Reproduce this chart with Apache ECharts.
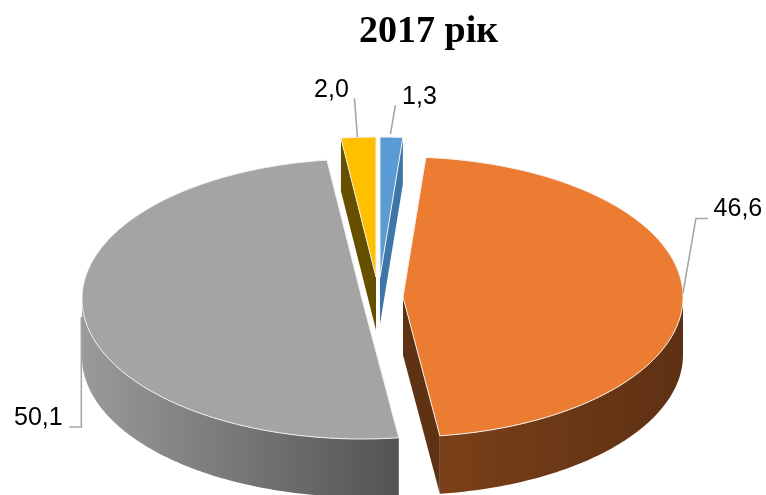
<!DOCTYPE html>
<html>
<head>
<meta charset="utf-8">
<script src="https://cdn.jsdelivr.net/npm/echarts@6/dist/echarts.min.js"></script>
<style>
  html, body { margin: 0; padding: 0; background: #ffffff; }
  #chart { width: 766px; height: 495px; }
</style>
</head>
<body>
<div id="chart"></div>
<script>
const chartTitle = '2017 рік';
const sliceValues = [1.3, 46.6, 50.1, 2.0];
const topColors = ['#5B9BD5', '#EB7C32', '#A4A4A4', '#FFC000'];
const sideColors = ['#3F76A8', '#5F3213', '#6E6E6E', '#665000'];
const wallStops = [
  ['#3F76A8', '#3F76A8'],
  ['#7A4018', '#5E3013'],
  ['#9A9A9A', '#535353'],
  ['#665000', '#665000']
];
// explode of each slice from the pie centre, px
const sliceShift = [[-2, -21], [21, -1], [-20, 1], [-6, -21]];
const wallHeights = [47, 58, 58, 53];
// leader line points and label centre, relative to the rim point at the slice middle
const leaderOffsets = [
  [[-1, -3], [4, -32]],
  [[0, 0], [13, -75], [25, -75]],
  [[-3, 0], [-3, 110], [-15, 110]],
  [[-1, 0], [-4, -39]]
];
const labelOffsets = [[28, -40], [55, -84], [-46, 101], [-27, -47]];

const pieCentre = [382, 298];
const radiusX = 280;
const radiusY = 140;

const total = sliceValues.reduce((a, b) => a + b, 0);

function rimPoint(centre, deg) {
  const rad = deg * Math.PI / 180;
  return [centre[0] + radiusX * Math.sin(rad), centre[1] - radiusY * Math.cos(rad)];
}

function arcPoints(centre, from, to) {
  const pts = [];
  const steps = Math.max(2, Math.ceil(to - from));
  for (let i = 0; i <= steps; i++) {
    pts.push(rimPoint(centre, from + (to - from) * i / steps));
  }
  return pts;
}

function renderSlice(params, api) {
  const i = params.dataIndex;
  let before = 0;
  for (let k = 0; k < i; k++) before += sliceValues[k];
  const start = before / total * 360;
  const end = (before + sliceValues[i]) / total * 360;
  const centre = [pieCentre[0] + sliceShift[i][0], pieCentre[1] + sliceShift[i][1]];
  const lowered = points => points.map(p => [p[0], p[1] + wallHeights[i]]);
  const children = [];

  function addFlatWall(deg) {
    const top = [centre, rimPoint(centre, deg)];
    children.push({
      type: 'polygon',
      shape: { points: top.concat(lowered(top).reverse()) },
      style: { fill: sideColors[i] }
    });
  }

  // side faces that turn toward the viewer
  if (Math.sin(start * Math.PI / 180) < -1e-6) addFlatWall(start);
  if (Math.sin(end * Math.PI / 180) > 1e-6) addFlatWall(end);

  // outer curved wall, front half only
  const wallFrom = Math.max(start, 90);
  const wallTo = Math.min(end, 270);
  if (wallTo > wallFrom) {
    const arc = arcPoints(centre, wallFrom, wallTo);
    children.push({
      type: 'polygon',
      shape: { points: arc.concat(lowered(arc).reverse()) },
      style: {
        fill: {
          type: 'linear', x: 0, y: 0, x2: 1, y2: 0,
          colorStops: [
            { offset: 0, color: wallStops[i][0] },
            { offset: 1, color: wallStops[i][1] }
          ]
        }
      }
    });
  }

  // top face
  children.push({
    type: 'polygon',
    shape: { points: [centre].concat(arcPoints(centre, start, end)) },
    style: { fill: topColors[i], stroke: '#f4f1ec', lineWidth: 1 }
  });

  // leader and value
  const rim = rimPoint(centre, (start + end) / 2);
  children.push({
    type: 'polyline',
    shape: { points: leaderOffsets[i].map(o => [rim[0] + o[0], rim[1] + o[1]]) },
    style: { stroke: '#A6A6A6', lineWidth: 1.6, fill: 'none' }
  });
  children.push({
    type: 'text',
    style: {
      text: api.value(0).toFixed(1).replace('.', ','),
      x: rim[0] + labelOffsets[i][0],
      y: rim[1] + labelOffsets[i][1],
      fill: '#000000',
      fontFamily: '"Liberation Sans", Arial, sans-serif',
      fontSize: 25,
      align: 'center',
      verticalAlign: 'middle'
    }
  });

  return { type: 'group', children: children };
}

const option = {
  animation: false,
  backgroundColor: '#ffffff',
  title: {
    text: chartTitle,
    left: 354,
    top: 8,
    textStyle: {
      fontFamily: '"Liberation Serif", "Times New Roman", serif',
      fontWeight: 'bold',
      fontSize: 38,
      color: '#000000'
    }
  },
  tooltip: { show: false },
  series: [
    {
      type: 'custom',
      coordinateSystem: 'none',
      silent: true,
      clip: false,
      data: sliceValues.map(v => [v]),
      renderItem: renderSlice
    }
  ]
};

const myChart = echarts.init(document.getElementById('chart'), null, { renderer: 'canvas' });
myChart.setOption(option);
</script>
</body>
</html>
